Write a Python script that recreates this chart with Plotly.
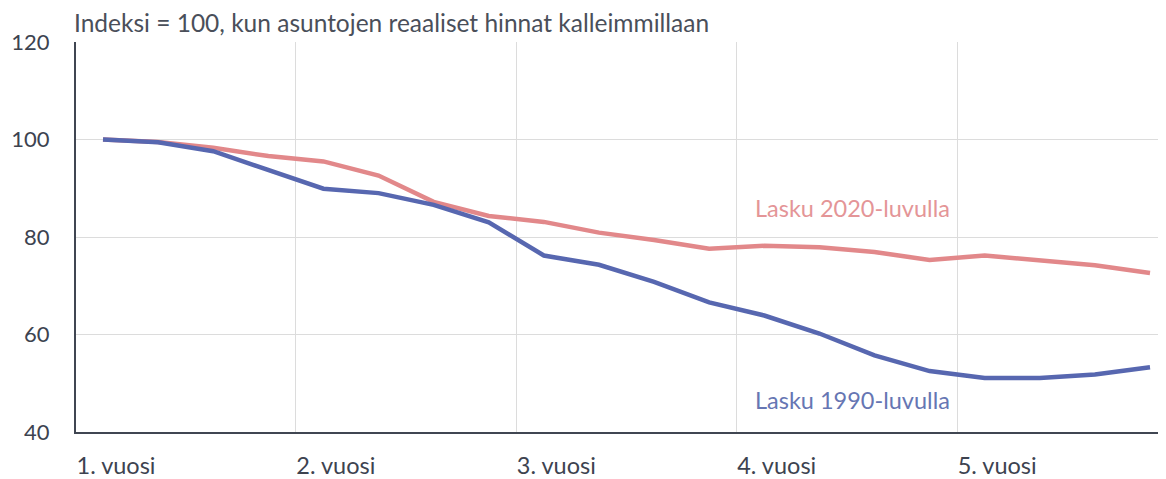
import plotly.graph_objects as go

quarters = list(range(20))
lasku_1990 = [100, 99.45, 97.6, 93.7, 89.9, 89.0, 86.6, 83.0, 76.2, 74.3,
              70.8, 66.6, 63.9, 60.2, 55.7, 52.5, 51.1, 51.1, 51.8, 53.3]
lasku_2020 = [100, 99.5, 98.3, 96.6, 95.5, 92.6, 87.2, 84.3, 83.1, 80.9,
              79.4, 77.6, 78.2, 77.9, 76.9, 75.3, 76.2, 75.1, 74.2, 72.6]
year_ticks = [-0.49, 3.5, 7.5, 11.5, 15.5]
year_labels = ["1. vuosi", "2. vuosi", "3. vuosi", "4. vuosi", "5. vuosi"]
y_ticks = [40, 60, 80, 100, 120]

FONT = "Lato"
BLUE = "#5767b0"
PINK = "#e2888a"

fig = go.Figure()
fig.add_trace(go.Scatter(x=quarters, y=lasku_2020, mode="lines",
                         line=dict(color=PINK, width=4.5), name="Lasku 2020-luvulla"))
fig.add_trace(go.Scatter(x=quarters, y=lasku_1990, mode="lines",
                         line=dict(color=BLUE, width=4.5), name="Lasku 1990-luvulla"))

fig.add_annotation(x=11.8, y=85.9, xref="x", yref="y", text="Lasku 2020-luvulla",
                   showarrow=False, xanchor="left", yanchor="middle",
                   font=dict(family=FONT, size=23.5, color="#e49597"))
fig.add_annotation(x=11.8, y=46.5, xref="x", yref="y", text="Lasku 1990-luvulla",
                   showarrow=False, xanchor="left", yanchor="middle",
                   font=dict(family=FONT, size=23.5, color="#6676b3"))
fig.add_annotation(x=0, y=1, xref="paper", yref="paper", xshift=-3, yshift=20,
                   text="Indeksi = 100, kun asuntojen reaaliset hinnat kalleimmillaan",
                   showarrow=False, xanchor="left", yanchor="middle", borderpad=0,
                   font=dict(family=FONT, size=24.5, color="#4a4f5a"))

fig.update_layout(
    width=1158, height=471,
    margin=dict(l=68, r=0, t=34, b=47, autoexpand=False),
    paper_bgcolor="white", plot_bgcolor="white",
    showlegend=False,
    font=dict(family=FONT, size=24, color="#3d4350"),
)
fig.update_xaxes(
    range=[-0.49, 19.29],
    tickmode="array", tickvals=year_ticks, ticktext=year_labels,
    ticklabelshift=40, ticklabelstandoff=12,
    showgrid=True, gridcolor="#dcdcdc", gridwidth=1,
    showline=True, linecolor="#404652", linewidth=2,
    zeroline=False, ticks="", automargin=False,
    tickfont=dict(family=FONT, size=23.5, color="#3d4350"),
)
fig.update_yaxes(
    range=[40, 120],
    tickmode="array", tickvals=y_ticks,
    showgrid=True, gridcolor="#dcdcdc", gridwidth=1,
    showline=True, linecolor="#404652", linewidth=2,
    zeroline=False, ticks="", ticklabelstandoff=20, automargin=False,
    tickfont=dict(family=FONT, size=22, color="#3d4350"),
)

fig.write_html("out.html")
